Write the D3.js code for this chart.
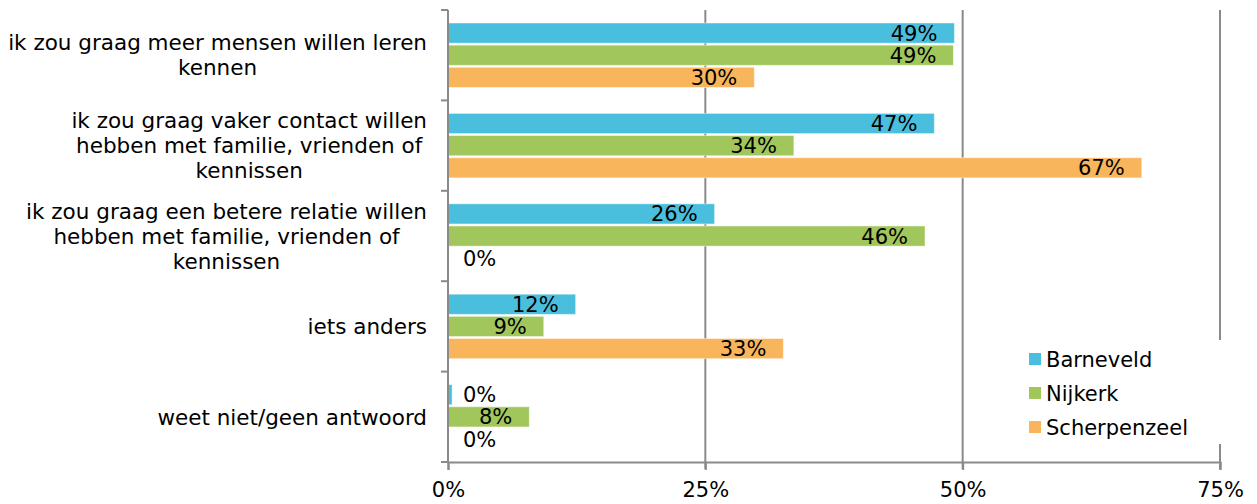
<!DOCTYPE html>
<html>
<head>
<meta charset="utf-8">
<script src="https://cdn.jsdelivr.net/npm/d3@7"></script>
<style>
  html, body { margin: 0; padding: 0; background: #fff; }
  svg { display: block; }
  text { font-family: "DejaVu Sans", Verdana, sans-serif; fill: #000; }
</style>
</head>
<body>
<svg id="chart" width="1257" height="504"></svg>
<script>
const categories = [
  ["ik zou graag meer mensen willen leren", "kennen"],
  ["ik zou graag vaker contact willen", "hebben met familie, vrienden of", "kennissen"],
  ["ik zou graag een betere relatie willen", "hebben met familie, vrienden of", "kennissen"],
  ["iets anders"],
  ["weet niet/geen antwoord"]
];
const seriesNames = ["Barneveld", "Nijkerk", "Scherpenzeel"];
const barneveld    = [0.492, 0.4725, 0.259, 0.124, 0.004];
const nijkerk      = [0.491, 0.336, 0.4634, 0.093, 0.079];
const scherpenzeel = [0.2976, 0.674, 0, 0.3258, 0];
const seriesValues = [barneveld, nijkerk, scherpenzeel];
const colors = ["#4ABFDD", "#A0C65C", "#F8B55C"];
const xTicks = [0, 0.25, 0.5, 0.75];

const svg = d3.select("#chart");
const FONT = 21;
const CAT_FONT = 21.5;
const gridColor = "#8A8A8A";

const x = d3.scaleLinear().domain([0, 0.75]).range([448, 1220]);
const catIdx = categories.map((d, i) => i);
const y0 = d3.scaleBand().domain(catIdx).range([10, 462]).padding(0);
const y1 = d3.scaleBand().domain(seriesNames).range([13, 77.5]).paddingInner(0.09);

// gridlines
svg.append("g").selectAll("line").data(xTicks.filter(t => t > 0)).join("line")
  .attr("x1", d => x(d)).attr("x2", d => x(d))
  .attr("y1", 10).attr("y2", 469)
  .attr("stroke", gridColor).attr("stroke-width", 2);

// bars
const groups = svg.append("g").selectAll("g").data(catIdx).join("g")
  .attr("transform", d => `translate(0,${y0(d)})`);

seriesNames.forEach((s, si) => {
  groups.append("rect")
    .attr("x", x(0))
    .attr("y", y1(s))
    .attr("width", d => Math.max(0, x(seriesValues[si][d]) - x(0)))
    .attr("height", y1.bandwidth())
    .attr("fill", colors[si])
    .attr("stroke", d => seriesValues[si][d] > 0 ? "rgba(255,255,255,0.45)" : "none")
    .attr("stroke-width", 1);
});

// value labels
seriesNames.forEach((s, si) => {
  groups.append("text")
    .attr("font-size", FONT)
    .attr("y", y1(s) + y1.bandwidth() / 2)
    .attr("dy", "0.36em")
    .each(function(d) {
      const v = seriesValues[si][d];
      const txt = d3.format(".0%")(v);
      const el = d3.select(this).text(txt);
      const end = x(v);
      if (end - x(0) < 45) {
        el.attr("x", x(0) + 15).attr("text-anchor", "start");
      } else {
        el.attr("x", end - 17).attr("text-anchor", "end");
      }
    });
});

// y axis line and ticks
svg.append("line").attr("x1", x(0)).attr("x2", x(0)).attr("y1", 10).attr("y2", 462)
  .attr("stroke", gridColor).attr("stroke-width", 2);
const yTickPos = catIdx.map(i => y0(i)).concat([y0(catIdx.length - 1) + y0.bandwidth()]);
svg.append("g").selectAll("line").data(yTickPos).join("line")
  .attr("x1", 441).attr("x2", x(0)).attr("y1", d => d).attr("y2", d => d)
  .attr("stroke", gridColor).attr("stroke-width", 2);

// x axis
const xAxis = d3.axisBottom(x).tickValues(xTicks).tickFormat(d3.format(".0%")).tickSize(8).tickPadding(12);
const gx = svg.append("g").attr("transform", "translate(0,462)").call(xAxis);
gx.select(".domain").attr("stroke", gridColor).attr("stroke-width", 2);
gx.selectAll(".tick line").attr("stroke", gridColor).attr("stroke-width", 2);
gx.selectAll(".tick text").attr("font-size", FONT).attr("font-family", "DejaVu Sans, Verdana, sans-serif").attr("fill", "#000");

// category labels
const lineH = 25;
categories.forEach((lines, i) => {
  const cy = y0(i) + y0.bandwidth() / 2;
  const g = svg.append("g");
  const texts = lines.map((l, li) => g.append("text")
    .attr("font-size", CAT_FONT)
    .attr("text-anchor", "middle")
    .attr("y", cy + (li - (lines.length - 1) / 2) * lineH)
    .attr("dy", "0.36em")
    .text(l));
  const maxW = d3.max(texts, t => t.node().getComputedTextLength());
  texts.forEach(t => t.attr("x", 427 - maxW / 2));
});

// legend
const lg = svg.append("g");
lg.append("rect").attr("x", 1015).attr("y", 340).attr("width", 235).attr("height", 104).attr("fill", "#fff");
seriesNames.forEach((s, i) => {
  const yy = 359 + i * 34;
  lg.append("rect").attr("x", 1029).attr("y", yy - 6).attr("width", 12).attr("height", 12).attr("fill", colors[i]);
  lg.append("text").attr("x", 1046).attr("y", yy).attr("dy", "0.36em").attr("font-size", FONT).text(s);
});
</script>
</body>
</html>
